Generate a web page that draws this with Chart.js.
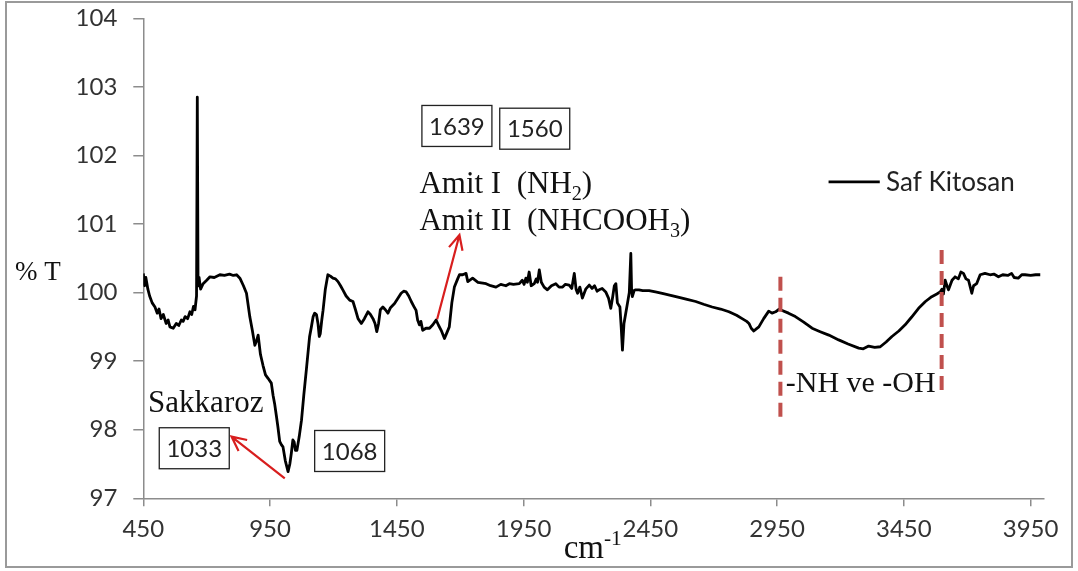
<!DOCTYPE html>
<html>
<head>
<meta charset="utf-8">
<script src="https://cdn.jsdelivr.net/npm/chart.js@4"></script>
<style>
  body { margin: 0; background: #fff; }
</style>
</head>
<body>
<canvas id="ftirChart" width="1078" height="571"></canvas>
<script>
// wavenumber (cm-1) and transmittance (%T)
var wavenumbers = [450, 455, 460, 468, 475, 485, 496, 505, 512, 520, 529, 540, 548, 555, 568, 580, 590, 600, 607, 615, 625, 634, 641, 648, 654, 660, 663, 666, 670, 676, 686, 700, 713, 730, 752, 770, 790, 805, 818, 831, 845, 857, 870, 880, 890, 897, 903, 912, 922, 932, 942, 955, 962, 968, 975, 981, 988, 995, 1001, 1010, 1021, 1028, 1034, 1040, 1045, 1050, 1056, 1065, 1074, 1083, 1093, 1106, 1113, 1120, 1126, 1133, 1139, 1144, 1148, 1154, 1159, 1168, 1178, 1188, 1198, 1208, 1218, 1228, 1237, 1250, 1264, 1277, 1287, 1297, 1310, 1322, 1336, 1346, 1356, 1364, 1371, 1378, 1385, 1395, 1405, 1415, 1425, 1441, 1455, 1467, 1477, 1487, 1497, 1507, 1517, 1526, 1532, 1539, 1545, 1552, 1565, 1579, 1592, 1605, 1615, 1625, 1638, 1648, 1657, 1667, 1677, 1690, 1697, 1710, 1723, 1730, 1749, 1770, 1802, 1820, 1841, 1860, 1880, 1894, 1910, 1933, 1945, 1952, 1959, 1965, 1972, 1980, 1992, 2000, 2005, 2012, 2020, 2031, 2044, 2060, 2077, 2090, 2104, 2115, 2130, 2140, 2150, 2157, 2163, 2172, 2182, 2195, 2209, 2220, 2230, 2240, 2248, 2260, 2274, 2285, 2294, 2302, 2308, 2314, 2320, 2330, 2335, 2340, 2346, 2353, 2360, 2367, 2373, 2376, 2379, 2386, 2392, 2405, 2420, 2445, 2470, 2497, 2530, 2563, 2595, 2629, 2660, 2694, 2727, 2760, 2790, 2812, 2830, 2839, 2848, 2858, 2868, 2878, 2897, 2917, 2930, 2944, 2958, 2970, 2995, 3022, 3055, 3088, 3120, 3154, 3193, 3230, 3272, 3290, 3311, 3335, 3357, 3380, 3403, 3430, 3455, 3480, 3508, 3535, 3560, 3580, 3593, 3600, 3606, 3613, 3620, 3626, 3640, 3652, 3665, 3675, 3685, 3695, 3705, 3712, 3718, 3725, 3737, 3751, 3770, 3790, 3805, 3823, 3840, 3860, 3875, 3885, 3901, 3915, 3928, 3950, 3970, 3988];
var transmittance = [100.28, 100.10, 100.22, 100.05, 99.95, 99.85, 99.79, 99.70, 99.76, 99.62, 99.68, 99.55, 99.60, 99.50, 99.48, 99.55, 99.52, 99.60, 99.58, 99.65, 99.62, 99.72, 99.68, 99.80, 99.75, 99.95, 102.85, 100.10, 100.22, 100.05, 100.13, 100.18, 100.23, 100.22, 100.26, 100.25, 100.27, 100.25, 100.26, 100.21, 100.10, 99.99, 99.65, 99.45, 99.23, 99.30, 99.38, 99.10, 98.94, 98.80, 98.75, 98.68, 98.50, 98.38, 98.20, 98.04, 97.83, 97.78, 97.75, 97.55, 97.39, 97.50, 97.66, 97.85, 97.82, 97.70, 97.70, 97.90, 98.14, 98.50, 98.87, 99.36, 99.50, 99.65, 99.70, 99.68, 99.55, 99.36, 99.40, 99.60, 99.74, 100.05, 100.26, 100.24, 100.21, 100.20, 100.16, 100.10, 100.04, 99.95, 99.89, 99.87, 99.75, 99.62, 99.55, 99.62, 99.72, 99.68, 99.62, 99.55, 99.43, 99.55, 99.75, 99.79, 99.75, 99.70, 99.78, 99.84, 99.92, 99.99, 100.02, 100.01, 99.95, 99.87, 99.80, 99.74, 99.60, 99.53, 99.58, 99.45, 99.48, 99.48, 99.53, 99.60, 99.52, 99.45, 99.33, 99.42, 99.50, 99.85, 100.08, 100.20, 100.26, 100.26, 100.28, 100.16, 100.21, 100.15, 100.13, 100.10, 100.08, 100.12, 100.10, 100.13, 100.12, 100.13, 100.18, 100.12, 100.21, 100.15, 100.30, 100.10, 100.13, 100.20, 100.15, 100.33, 100.15, 100.08, 100.04, 100.10, 100.13, 100.08, 100.08, 100.12, 100.11, 100.06, 100.28, 100.05, 99.99, 100.08, 99.92, 100.05, 100.11, 100.06, 100.10, 100.02, 100.04, 100.06, 100.01, 99.92, 99.77, 99.95, 100.10, 100.13, 99.85, 99.79, 99.50, 99.16, 99.55, 99.70, 99.85, 100.00, 100.57, 100.05, 99.94, 100.03, 100.04, 100.04, 100.03, 100.03, 100.01, 99.99, 99.96, 99.93, 99.90, 99.87, 99.83, 99.79, 99.76, 99.72, 99.67, 99.62, 99.58, 99.55, 99.48, 99.44, 99.47, 99.50, 99.62, 99.73, 99.70, 99.72, 99.76, 99.74, 99.70, 99.65, 99.57, 99.48, 99.43, 99.38, 99.31, 99.25, 99.19, 99.18, 99.22, 99.20, 99.21, 99.28, 99.36, 99.44, 99.53, 99.64, 99.77, 99.87, 99.94, 99.98, 100.01, 100.05, 99.98, 100.18, 100.10, 100.04, 100.18, 100.23, 100.20, 100.30, 100.28, 100.20, 100.18, 100.08, 99.99, 100.10, 100.13, 100.26, 100.28, 100.26, 100.27, 100.23, 100.26, 100.25, 100.28, 100.22, 100.21, 100.26, 100.26, 100.25, 100.26, 100.26];

var xTicks = [450, 950, 1450, 1950, 2450, 2950, 3450, 3950];
var yTicks = [97, 98, 99, 100, 101, 102, 103, 104];

// peak labels (boxes) : text, wavenumber, %T of box centre
var peakBoxes = [
    { text: '1033', x: 651, y: 97.73 },
    { text: '1068', x: 1264, y: 97.69 },
    { text: '1639', x: 1687, y: 102.43 },
    { text: '1560', x: 1994, y: 102.39 }
];
// dashed marker lines for -NH / -OH region
var markerLines = [
    { x: 2963, from: 98.12, to: 100.23 },
    { x: 3599, from: 98.54, to: 100.62 }
];
// red arrows: from point on curve to label
var arrows = [
    { x1: 1008, y1: 97.29, x2: 798, y2: 97.90 },
    { x1: 1609, y1: 99.61, x2: 1697, y2: 100.84 }
];

var spectrum = [];
for (var i = 0; i < wavenumbers.length; i++) {
    spectrum.push({ x: wavenumbers[i], y: transmittance[i] });
}

var serif = '"Liberation Serif", "Times New Roman", serif';
var sans = 'Lato, "Open Sans", sans-serif';

// draws text pieces with sub/superscripts, returns end x
function drawRich(ctx, parts, x, y, size) {
    ctx.textAlign = 'left';
    ctx.textBaseline = 'alphabetic';
    parts.forEach(function(p) {
        var s = p[1] ? size * 0.65 : size;
        var dy = p[1] === 'sub' ? size * 0.22 : (p[1] === 'sup' ? -size * 0.4 : 0);
        ctx.font = s + 'px ' + serif;
        ctx.fillText(p[0], x, y + dy);
        x += ctx.measureText(p[0]).width;
    });
    return x;
}

function drawArrow(ctx, x1, y1, x2, y2) {
    var ang = Math.atan2(y2 - y1, x2 - x1);
    var head = 16;
    ctx.beginPath();
    ctx.moveTo(x1, y1);
    ctx.lineTo(x2, y2);
    ctx.moveTo(x2 - head * Math.cos(ang - 0.45), y2 - head * Math.sin(ang - 0.45));
    ctx.lineTo(x2, y2);
    ctx.lineTo(x2 - head * Math.cos(ang + 0.45), y2 - head * Math.sin(ang + 0.45));
    ctx.stroke();
}

var notesPlugin = {
    id: 'notes',
    beforeDraw: function(chart) {
        var ctx = chart.ctx;
        ctx.save();
        ctx.fillStyle = '#fff';
        ctx.fillRect(0, 0, chart.width, chart.height);
        ctx.strokeStyle = '#9a9a9a';
        ctx.lineWidth = 2;
        ctx.strokeRect(6, 2, chart.width - 12, chart.height - 6);
        ctx.restore();
    },
    afterDatasetsDraw: function(chart) {
        var ctx = chart.ctx;
        var xs = chart.scales.x, ys = chart.scales.y;
        var px = function(v) { return xs.getPixelForValue(v); };
        var py = function(v) { return ys.getPixelForValue(v); };
        ctx.save();

        // dashed red marker lines
        ctx.strokeStyle = '#c0504d';
        ctx.lineWidth = 4;
        ctx.setLineDash([14, 7]);
        markerLines.forEach(function(m) {
            ctx.beginPath();
            ctx.moveTo(px(m.x), py(m.to));
            ctx.lineTo(px(m.x), py(m.from));
            ctx.stroke();
        });
        ctx.setLineDash([]);

        // red arrows
        ctx.strokeStyle = '#d81e1e';
        ctx.lineWidth = 2.2;
        arrows.forEach(function(a) {
            drawArrow(ctx, px(a.x1), py(a.y1), px(a.x2), py(a.y2));
        });

        // boxed peak numbers
        ctx.font = '24px ' + sans;
        ctx.textAlign = 'center';
        ctx.textBaseline = 'middle';
        peakBoxes.forEach(function(b) {
            var cx = px(b.x), cy = py(b.y);
            ctx.fillStyle = '#fff';
            ctx.fillRect(cx - 35, cy - 20.5, 70, 41);
            ctx.strokeStyle = '#222';
            ctx.lineWidth = 1.3;
            ctx.strokeRect(cx - 35, cy - 20.5, 70, 41);
            ctx.fillStyle = '#222';
            ctx.fillText(b.text, cx, cy + 1);
        });

        // serif annotations
        ctx.fillStyle = '#111';
        ctx.font = '31px ' + serif;
        ctx.textAlign = 'left';
        ctx.textBaseline = 'alphabetic';
        ctx.fillText('Sakkaroz', px(469), py(98.26));
        drawRich(ctx, [['Amit I  (NH', ''], ['2', 'sub'], [')', '']], px(1539), py(101.455), 31);
        drawRich(ctx, [['Amit II  (NHCOOH', ''], ['3', 'sub'], [')', '']], px(1539), py(100.91), 31);
        ctx.font = '30px ' + serif;
        ctx.fillText('-NH ve -OH', px(2984), py(98.55));

        // axis titles
        ctx.font = '27px ' + serif;
        ctx.fillText('% T', 15, py(100.18));
        drawRich(ctx, [['cm', ''], ['-1', 'sup']], px(2108), chart.chartArea.bottom + 60, 33);

        // legend
        var ly = py(101.615);
        ctx.strokeStyle = '#000';
        ctx.lineWidth = 2.8;
        ctx.beginPath();
        ctx.moveTo(px(3153), ly);
        ctx.lineTo(px(3355), ly);
        ctx.stroke();
        ctx.fillStyle = '#222';
        ctx.font = '26px ' + sans;
        ctx.textBaseline = 'middle';
        ctx.fillText('Saf Kitosan', px(3380), ly + 1);

        ctx.restore();
    }
};

var ctx = document.getElementById('ftirChart').getContext('2d');
var ftirChart = new Chart(ctx, {
    type: 'line',
    data: {
        datasets: [{
            label: 'Saf Kitosan',
            data: spectrum,
            borderColor: '#000',
            borderWidth: 2.8,
            pointRadius: 0,
            tension: 0,
            fill: false,
            borderJoinStyle: 'round'
        }]
    },
    options: {
        responsive: false,
        animation: false,
        layout: { padding: { top: 18.3, right: 34.7, left: 0, bottom: 0 } },
        plugins: {
            legend: { display: false },
            tooltip: { enabled: false }
        },
        scales: {
            x: {
                type: 'linear',
                min: 450,
                max: 4000,
                afterBuildTicks: function(scale) {
                    scale.ticks = xTicks.map(function(v) { return { value: v }; });
                },
                afterFit: function(scale) {
                    scale.height = 72.7;
                    scale.paddingLeft = 0;
                    scale.paddingRight = 0;
                },
                grid: { drawOnChartArea: false, tickLength: 8, color: '#8c8c8c', lineWidth: 1.5 },
                border: { color: '#8c8c8c', width: 1.5 },
                ticks: {
                    autoSkip: false,
                    maxRotation: 0,
                    padding: 9,
                    color: '#333',
                    font: { family: sans, size: 24 },
                    callback: function(v) { return String(v); }
                }
            },
            y: {
                min: 97,
                max: 104,
                afterBuildTicks: function(scale) {
                    scale.ticks = yTicks.map(function(v) { return { value: v }; });
                },
                afterFit: function(scale) {
                    scale.width = 143.3;
                    scale.paddingTop = 0;
                    scale.paddingBottom = 0;
                },
                grid: { drawOnChartArea: false, tickLength: 10, color: '#8c8c8c', lineWidth: 1.5 },
                border: { color: '#8c8c8c', width: 1.5 },
                ticks: {
                    padding: 16,
                    color: '#333',
                    font: { family: sans, size: 24 },
                    callback: function(v) { return String(v); }
                }
            }
        }
    },
    plugins: [notesPlugin]
});
</script>
</body>
</html>
